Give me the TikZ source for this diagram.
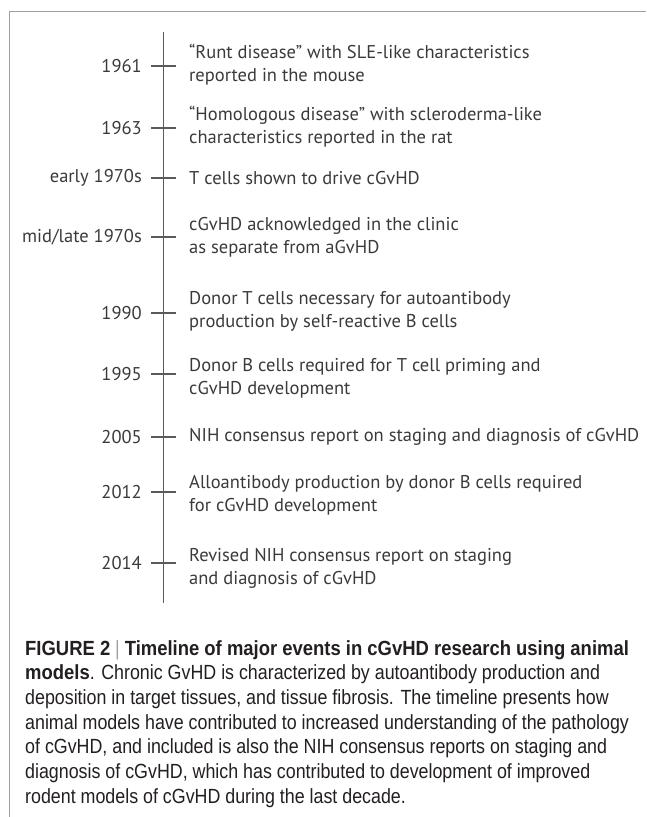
\documentclass[tikz,border=0pt]{standalone}
\usepackage{fontspec}
\setmainfont{PT Sans}
\newfontfamily\capfont[FakeStretch=0.87,BoldFeatures={FakeStretch=0.90}]{Liberation Sans}
\usepackage{tikz}
\usetikzlibrary{positioning}
\definecolor{axisgray}{HTML}{5A5A5A}
\definecolor{framegray}{HTML}{A0A0A0}
\definecolor{inkgray}{HTML}{3A3A3A}
\definecolor{capink}{HTML}{231F20}
\tikzset{
  framerule/.style={draw=framegray,line width=0.9pt},
  axisline/.style={draw=axisgray,line width=1.3pt},
  yearlabel/.style={inner sep=0pt,text=inkgray,
                    font=\fontsize{18.5}{23}\selectfont},
  eventtext/.style={anchor=west,align=left,inner sep=0pt,text=inkgray,
                    font=\fontsize{18.5}{23}\selectfont},
  captext/.style={anchor=north west,align=left,inner sep=0pt,text=capink,
                  font=\capfont\fontsize{20.5}{24.7}\selectfont},
}
% one entry: id, tick y, text centre y, year, event
\newcommand{\tlevent}[5]{%
  \coordinate (t#1) at (163.5,#2);
  \draw[axisline] ([xshift=-12.5pt]t#1) -- ([xshift=12.5pt]t#1);
  \node[yearlabel,left=21.5pt of t#1] (yr#1) {#4};
  \node[eventtext] (ev#1) at (189,#3) {#5};}

\begin{document}
\begin{tikzpicture}[x=1pt,y=-1pt]
  \useasboundingbox (0,0) rectangle (646,817);
  % frame, top and left only
  \draw[framerule] (9,817) -- (9,11) -- (646,11);

  % time axis
  \coordinate (axtop) at (163.5,32);
  \coordinate (axbot) at (163.5,603);
  \draw[axisline] (axtop) -- (axbot);

  % ticks, years and events
  \tlevent{1}{66}{65}{1961}{“Runt disease” with SLE-like characteristics\\reported in the mouse}
  \tlevent{2}{128}{127}{1963}{“Homologous disease” with scleroderma-like\\characteristics reported in the rat}
  \tlevent{3}{178}{178}{early 1970s}{T cells shown to drive cGvHD}
  \tlevent{4}{237}{237}{mid/late 1970s}{cGvHD acknowledged in the clinic\\as separate from aGvHD}
  \tlevent{5}{313}{311}{1990}{Donor T cells necessary for autoantibody\\production by self-reactive B cells}
  \tlevent{6}{374}{378}{1995}{Donor B cells required for T cell priming and\\cGvHD development}
  \tlevent{7}{437}{437}{2005}{NIH consensus report on staging and diagnosis of cGvHD}
  \tlevent{8}{492}{495}{2012}{Alloantibody production by donor B cells required\\for cGvHD development}
  \tlevent{9}{563}{568}{2014}{Revised NIH consensus report on staging\\and diagnosis of cGvHD}

  % caption
  \node[captext] (cap) at (25,640) {%
    \textbf{FIGURE 2} {\color{framegray}|} \textbf{Timeline of major events in cGvHD research using animal}\\
    \textbf{models}. Chronic GvHD is characterized by autoantibody production and\\
    deposition in target tissues, and tissue fibrosis. The timeline presents how\\
    animal models have contributed to increased understanding of the pathology\\
    of cGvHD, and included is also the NIH consensus reports on staging and\\
    diagnosis of cGvHD, which has contributed to development of improved\\
    rodent models of cGvHD during the last decade.};
\end{tikzpicture}
\end{document}
